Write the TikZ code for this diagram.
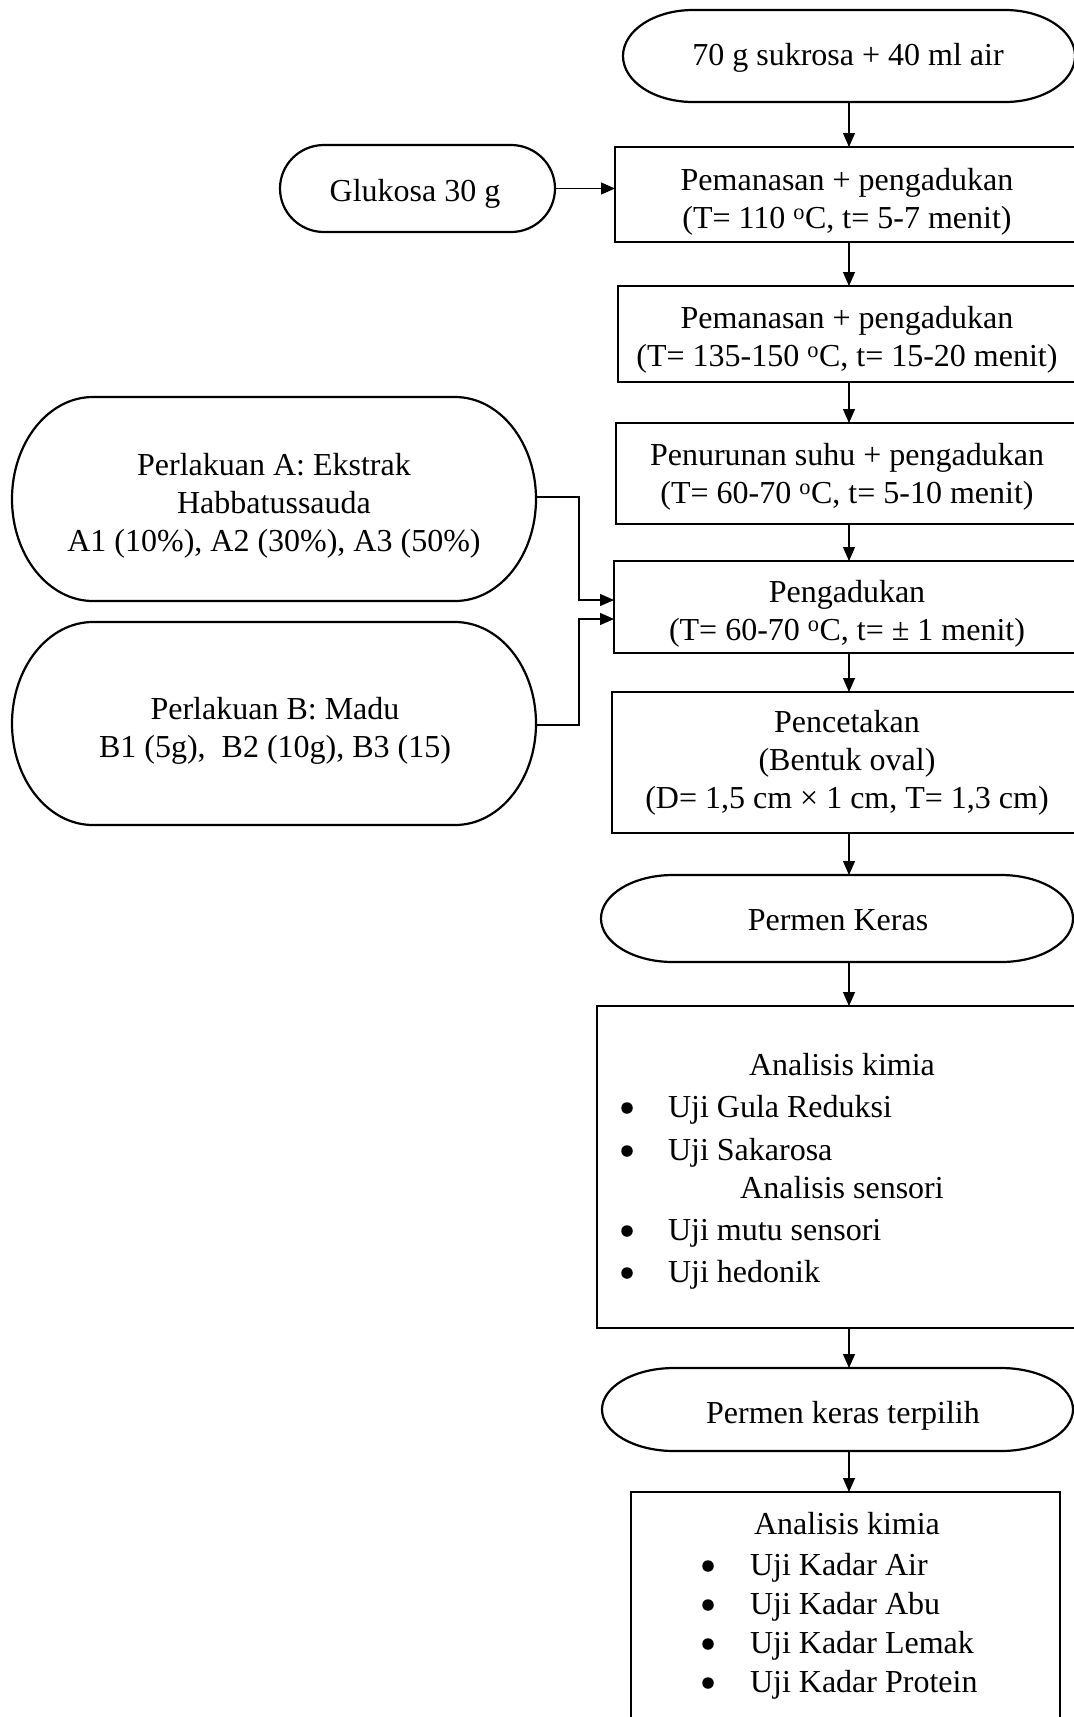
\documentclass[tikz,border=0pt]{standalone}
\usepackage{fontspec}
\setmainfont{Liberation Serif}
\usetikzlibrary{arrows.meta,calc}
\newcommand\termout[3]{%
  \draw[shapeline] ([xshift=#2pt]#1.north west) -- ([xshift=-#2pt]#1.north east)
    arc[start angle=90,end angle=-90,x radius=#2,y radius=#3]
    -- ([xshift=#2pt]#1.south west)
    arc[start angle=270,end angle=90,x radius=#2,y radius=#3] -- cycle;}
\tikzset{
  txt/.style={inner sep=0pt, outer sep=0pt, font=\fontsize{32}{38}\selectfont, align=center},
  shapeline/.style={line width=2.2pt},
  boxnode/.style={draw, shapeline, rectangle, inner sep=0pt, outer sep=0pt},
  termnode/.style={rectangle, inner sep=0pt, outer sep=0pt},
  dot/.style={circle, fill, inner sep=0pt, minimum size=11.5pt},
  conn/.style={line width=1.1pt, -{Triangle[width=12pt,length=14pt]}}
}
\begin{document}
\begin{tikzpicture}[x=1pt,y=1pt]
\useasboundingbox (0,0) rectangle (1074,-1717);
\clip (0,0) rectangle (1074,-1717);
\fill[white] (0,0) rectangle (1074,-1717);
\coordinate (axis) at (849,0);

% terminators
\node[termnode, minimum width=452pt, minimum height=92pt] (T0) at (849,-56) {};
\termout{T0}{70}{46}
\node[txt, anchor=base] (T0t) at (848,-65) {70 g sukrosa + 40 ml air};

\node[termnode, minimum width=275pt, minimum height=87pt] (G) at (417.5,-188.5) {};
\termout{G}{44}{43.5}
\node[txt, anchor=base] (Gt) at (415,-201) {Glukosa 30 g};

% process boxes
\node[boxnode, minimum width=466pt, minimum height=95pt] (B1) at (848,-194.5) {};
\node[txt] (B1t) at (847,-202) {Pemanasan + pengadukan\\(T= 110 \textsuperscript{o}C, t= 5-7 menit)};

\node[boxnode, minimum width=460pt, minimum height=96pt] (B2) at (848,-334) {};
\node[txt] (B2t) at (847,-340) {Pemanasan + pengadukan\\(T= 135-150 \textsuperscript{o}C, t= 15-20 menit)};

\node[boxnode, minimum width=464pt, minimum height=101pt] (B3) at (848,-473.5) {};
\node[txt] (B3t) at (847,-477) {Penurunan suhu + pengadukan\\(T= 60-70 \textsuperscript{o}C, t= 5-10 menit)};

\node[boxnode, minimum width=468pt, minimum height=92pt] (B4) at (848,-607) {};
\node[txt] (B4t) at (847,-613.5) {Pengadukan\\(T= 60-70 \textsuperscript{o}C, t= ± 1 menit)};

\node[boxnode, minimum width=472pt, minimum height=141pt] (B5) at (848,-762.5) {};
\node[txt] (B5t) at (847,-763) {Pencetakan\\(Bentuk oval)\\(D= 1,5 cm × 1 cm, T= 1,3 cm)};

% treatments
\node[termnode, minimum width=524pt, minimum height=204pt] (A) at (274,-499) {};
\termout{A}{81}{102}
\node[txt] (At) at (274,-506) {Perlakuan A: Ekstrak\\Habbatussauda\\A1 (10\%), A2 (30\%), A3 (50\%)};

\node[termnode, minimum width=524pt, minimum height=203pt] (Bs) at (274,-723.5) {};
\termout{Bs}{81}{101.5}
\node[txt] (Bst) at (275,-731) {Perlakuan B: Madu\\B1 (5g),\ \ B2 (10g), B3 (15)};

% product
\node[termnode, minimum width=472pt, minimum height=87pt] (T1) at (837,-918.5) {};
\termout{T1}{72}{43.5}
\node[txt, anchor=base] (T1t) at (838,-930) {Permen Keras};

\node[boxnode, minimum width=490pt, minimum height=322pt] (B6) at (842,-1167) {};
\node[txt, anchor=base] (B6a) at (842,-1075) {Analisis kimia};
\node[dot] (B6bd) at (627,-1108) {};
\node[txt, anchor=base west] (B6b) at (668,-1117) {Uji Gula Reduksi};
\node[dot] (B6cd) at (627,-1151) {};
\node[txt, anchor=base west] (B6c) at (668,-1160) {Uji Sakarosa};
\node[txt, anchor=base] (B6d) at (842,-1198) {Analisis sensori};
\node[dot] (B6ed) at (627,-1231) {};
\node[txt, anchor=base west] (B6e) at (668,-1240) {Uji mutu sensori};
\node[dot] (B6fd) at (627,-1273) {};
\node[txt, anchor=base west] (B6f) at (668,-1282) {Uji hedonik};

\node[termnode, minimum width=471pt, minimum height=83pt] (T2) at (837.5,-1409.5) {};
\termout{T2}{72}{41.5}
\node[txt, anchor=base] (T2t) at (843,-1423) {Permen keras terpilih};

\node[boxnode, minimum width=429pt, minimum height=250pt] (B7) at (845.5,-1617) {};
\node[txt, anchor=base] (B7a) at (847,-1534) {Analisis kimia};
\node[dot] (B7bd) at (708,-1566) {};
\node[txt, anchor=base west] (B7b) at (750,-1575) {Uji Kadar Air};
\node[dot] (B7cd) at (708,-1605) {};
\node[txt, anchor=base west] (B7c) at (750,-1614) {Uji Kadar Abu};
\node[dot] (B7dd) at (708,-1644) {};
\node[txt, anchor=base west] (B7d) at (750,-1653) {Uji Kadar Lemak};
\node[dot] (B7ed) at (708,-1683) {};
\node[txt, anchor=base west] (B7e) at (750,-1692) {Uji Kadar Protein};

% connectors
\draw[conn] (T0.south -| axis) -- (B1.north -| axis);
\draw[conn] (B1.south -| axis) -- (B2.north -| axis);
\draw[conn] (B2.south -| axis) -- (B3.north -| axis);
\draw[conn] (B3.south -| axis) -- (B4.north -| axis);
\draw[conn] (B4.south -| axis) -- (B5.north -| axis);
\draw[conn] (B5.south -| axis) -- (T1.north -| axis);
\draw[conn] (T1.south -| axis) -- (B6.north -| axis);
\draw[conn] (B6.south -| axis) -- (T2.north -| axis);
\draw[conn] (T2.south -| axis) -- (B7.north -| axis);
\draw[conn] (G.east) -- (G.east -| B1.west);

\coordinate (jA) at (579,-600);
\coordinate (jB) at (579,-619);
\draw[conn] ([yshift=2pt]A.east) -| (jA) -- (jA -| B4.west);
\draw[conn] ([yshift=-1.5pt]Bs.east) -| (jB) -- (jB -| B4.west);
\end{tikzpicture}
\end{document}
